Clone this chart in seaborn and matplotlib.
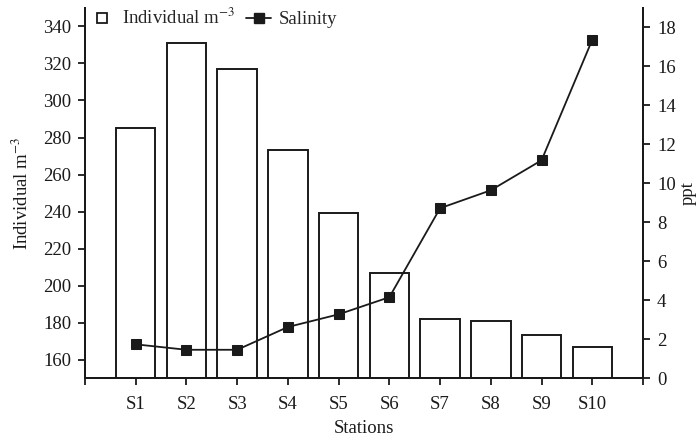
import matplotlib
matplotlib.use("Agg")
import matplotlib.pyplot as plt
from matplotlib.lines import Line2D
import seaborn as sns
import pandas as pd

stations = ["S1", "S2", "S3", "S4", "S5", "S6", "S7", "S8", "S9", "S10"]
individual = [285, 331, 317, 273, 239, 207, 182, 181, 173, 167]
salinity = [1.73, 1.45, 1.45, 2.62, 3.27, 4.15, 8.72, 9.64, 11.18, 17.37]
left_ticks = [160, 180, 200, 220, 240, 260, 280, 300, 320, 340]
right_ticks = [0, 2, 4, 6, 8, 10, 12, 14, 16, 18]

df = pd.DataFrame({"Station": stations, "Individual": individual, "Salinity": salinity})

sns.set_theme(style="ticks")
plt.rcParams["font.family"] = ["Liberation Serif", "DejaVu Serif"]
plt.rcParams["mathtext.fontset"] = "stix"

fs = 13.5
fig = plt.figure(figsize=(7, 4.44), dpi=100)
ax = fig.add_axes([0.1214, 0.1486, 0.7972, 0.8334])

ink = "#1a1a1a"
sns.barplot(data=df, x="Station", y="Individual", ax=ax, color="white",
            edgecolor=ink, linewidth=1.4, width=0.78, saturation=1)
ax.set_ylim(150, 350)
ax.set_xlim(-1, 10)
ax.set_yticks(left_ticks)
ax.set_ylabel("Individual m$^{-3}$", fontsize=fs, color=ink, labelpad=8)
ax.set_xlabel("Stations", fontsize=fs, color=ink, labelpad=5)
ax.set_xticks(range(len(stations)))
ax.set_xticklabels(stations)
ax.set_xticks([-1, 10], minor=True)

ax2 = ax.twinx()
sns.lineplot(data=df, x="Station", y="Salinity", ax=ax2, color=ink,
             marker="s", markersize=7.5, markeredgecolor=ink, linewidth=1.3,
             sort=False)
ax2.set_ylim(0, 19)
ax2.set_xlim(-1, 10)
ax2.set_yticks(right_ticks)
ax2.set_ylabel("ppt", fontsize=fs, color=ink, rotation=90, labelpad=3)

for a in (ax, ax2):
    for s in a.spines.values():
        s.set_linewidth(1.4)
        s.set_color(ink)
    a.tick_params(axis="both", which="both", direction="out", length=5,
                  width=1.3, labelsize=fs, colors=ink)
ax.tick_params(axis="x", which="both", pad=8)
ax.tick_params(axis="y", pad=5)
ax2.tick_params(axis="y", pad=5)
ax.spines["top"].set_visible(False)
ax2.spines["top"].set_visible(False)
ax2.spines["right"].set_visible(True)
ax.grid(False)
ax2.grid(False)

handles = [
    Line2D([], [], linestyle="none", marker="s", markersize=6.5,
           markerfacecolor="white", markeredgecolor=ink, markeredgewidth=1.3),
    Line2D([], [], color=ink, linewidth=1.3, marker="s", markersize=7),
]
leg = ax.legend(handles, ["Individual m$^{-3}$", "Salinity"], ncol=2,
                loc="upper left", bbox_to_anchor=(-0.011, 1.03), frameon=False,
                fontsize=fs, handlelength=1.3, handletextpad=0.4,
                columnspacing=0.6, borderaxespad=0.2)

fig.savefig("out.png", dpi=100)
